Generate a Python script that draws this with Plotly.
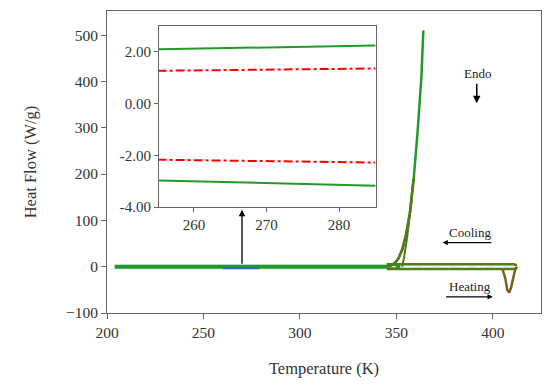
import plotly.graph_objects as go

# ---- main DSC data ----
base_T = [204, 230, 260, 290, 320, 345, 352]
base_HF = [0, 0, 0, 0, 0, 0, 0]

peak_T = [345, 347, 349, 351, 353, 355, 357, 359, 361, 363, 364]
peak_HF = [0, 2, 7, 17, 36, 68, 115, 190, 290, 410, 510]

branch_T = [353, 354, 355.5, 357, 358]
branch_HF = [0, 20, 60, 110, 145]

band_T = [345, 360, 380, 400, 411, 412.5]
band_top = [5, 5, 5, 5, 5, 2]
band_bot = [-5, -5, -5, -5, -5, -2]
band_mid = [0, 0, 0, 0, 0, 0]

dip_T = [405, 406.5, 407.5, 408.5, 409.5, 410.5, 411.5, 412.5]
dip_HF = [-5, -25, -50, -56, -45, -25, -8, 0]

zoom_T = [260, 279]
zoom_HF = [-4, -4]

# ---- inset data ----
ins_T = [255, 270, 285]
green_top = [2.10, 2.17, 2.25]
red_top = [1.27, 1.31, 1.36]
red_bot = [-2.17, -2.22, -2.28]
green_bot = [-2.97, -3.07, -3.18]

ins_ticks = [-4, -2, 0, 2]
ins_ticklabels = ["-4.00", "-2.00", "0.00", "2.00"]

GREEN = "#22992a"
OLIVE = "#557a1c"
BROWN = "#7a6020"
FONT = "Liberation Serif"

fig = go.Figure()

# faint cyan halo
fig.add_trace(go.Scatter(x=base_T + [412.5], y=base_HF + [0], mode="lines",
                         line=dict(color="#dff8f3", width=6), hoverinfo="skip"))
fig.add_trace(go.Scatter(x=base_T, y=base_HF, mode="lines",
                         line=dict(color=GREEN, width=4)))
fig.add_trace(go.Scatter(x=band_T, y=band_top, mode="lines",
                         line=dict(color=OLIVE, width=2.5)))
fig.add_trace(go.Scatter(x=band_T, y=band_bot, mode="lines",
                         line=dict(color=OLIVE, width=2.5)))
fig.add_trace(go.Scatter(x=band_T, y=band_mid, mode="lines",
                         line=dict(color="white", width=1.2, dash="dash")))
fig.add_trace(go.Scatter(x=dip_T, y=dip_HF, mode="lines",
                         line=dict(color=BROWN, width=2.5)))
fig.add_trace(go.Scatter(x=peak_T, y=peak_HF, mode="lines",
                         line=dict(color=GREEN, width=2.5)))
fig.add_trace(go.Scatter(x=peak_T[:8], y=peak_HF[:8], mode="lines",
                         line=dict(color=OLIVE, width=2.5)))
fig.add_trace(go.Scatter(x=branch_T, y=branch_HF, mode="lines",
                         line=dict(color=OLIVE, width=2)))
fig.add_trace(go.Scatter(x=zoom_T, y=zoom_HF, mode="lines",
                         line=dict(color="#2a6fb0", width=1.5)))

# inset traces
for yy, col, dash in [(green_top, GREEN, "solid"), (red_top, "red", "dashdot"),
                      (red_bot, "red", "dashdot"), (green_bot, GREEN, "solid")]:
    fig.add_trace(go.Scatter(x=ins_T, y=yy, mode="lines", xaxis="x2", yaxis="y2",
                             line=dict(color=col, width=2, dash=dash)))

axcol = "#666666"
fig.update_layout(
    width=534, height=370,
    margin=dict(l=99, r=1, t=3, b=65),
    paper_bgcolor="white", plot_bgcolor="white",
    showlegend=False,
    font=dict(family=FONT, size=15.5, color="#333333"),
    xaxis=dict(range=[200, 425], tickvals=[200, 250, 300, 350, 400],
               automargin=False,
               showgrid=False, zeroline=False, showline=True, mirror=True,
               linecolor=axcol, linewidth=1, ticks="outside", ticklen=5,
               tickcolor=axcol,
               title=dict(text="Temperature (K)", standoff=23,
                          font=dict(size=16.5))),
    yaxis=dict(range=[-100, 552], tickvals=[-100, 0, 100, 200, 300, 400, 500],
               ticktext=["\u2212100", "0", "100", "200", "300", "400", "500"],
               automargin=False,
               showgrid=False, zeroline=False, showline=True, mirror=True,
               linecolor=axcol, linewidth=1, ticks="outside", ticklen=5,
               tickcolor=axcol,
               title=dict(text="Heat Flow (W/g)", standoff=25,
                          font=dict(size=16.5))),
    xaxis2=dict(domain=[0.12, 0.62], anchor="y2", range=[255.2, 285.1],
                automargin=False,
                tickvals=[260, 270, 280], showgrid=False, zeroline=False,
                showline=True, mirror=True, linecolor=axcol, linewidth=1,
                ticks="outside", ticklen=4, tickcolor=axcol,
                tickfont=dict(size=15)),
    yaxis2=dict(domain=[0.351, 0.95], anchor="x2", range=[-4, 3.0],
                automargin=False,
                tickvals=ins_ticks, ticktext=ins_ticklabels,
                showgrid=False, zeroline=False, showline=True, mirror=True,
                linecolor=axcol, linewidth=1, ticks="outside", ticklen=4,
                tickcolor=axcol, tickfont=dict(size=15)),
)

ann = []
# Endo
ann.append(dict(x=392, y=418, text="Endo", showarrow=False,
                font=dict(size=13, color="#222")))
ann.append(dict(x=391.7, y=353, ax=391.7, ay=398, axref="x", ayref="y",
                showarrow=True, arrowhead=2, arrowsize=1, arrowwidth=1.5,
                arrowcolor="black", text=""))
# Cooling
ann.append(dict(x=388, y=73, text="Cooling", showarrow=False,
                font=dict(size=13, color="#222")))
ann.append(dict(x=374, y=52, ax=400, ay=52, axref="x", ayref="y",
                showarrow=True, arrowhead=2, arrowsize=0.8, arrowwidth=1.3,
                arrowcolor="black", text=""))
# Heating
ann.append(dict(x=388, y=-43, text="Heating", showarrow=False,
                font=dict(size=13, color="#222")))
ann.append(dict(x=400, y=-65, ax=375, ay=-65, axref="x", ayref="y",
                showarrow=True, arrowhead=2, arrowsize=0.8, arrowwidth=1.3,
                arrowcolor="black", text=""))
# zoom arrow
ann.append(dict(x=270, y=123, ax=270, ay=3, axref="x", ayref="y",
                showarrow=True, arrowhead=2, arrowsize=1, arrowwidth=1.3,
                arrowcolor="black", text=""))
fig.update_layout(annotations=ann)

fig.write_html("out.html")
